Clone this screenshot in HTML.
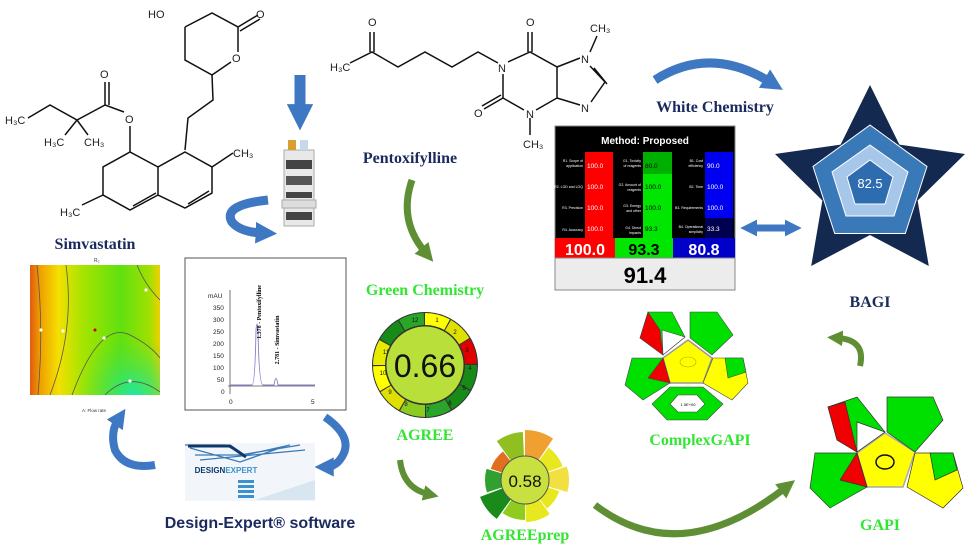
<!DOCTYPE html>
<html><head><meta charset="utf-8"><style>
body{margin:0;background:#fff}
svg{display:block}
.n{font-family:"Liberation Serif",serif;font-weight:bold;fill:#1a2a5e}
.g{font-family:"Liberation Serif",serif;font-weight:bold;fill:#33e633}
.c{font-family:"Liberation Sans",sans-serif;fill:#222}
.b{stroke:#111;stroke-width:1.5;fill:none}
</style></head><body>
<svg width="975" height="549" viewBox="0 0 975 549" xmlns="http://www.w3.org/2000/svg">
<defs>
<marker id="ab" viewBox="0 0 10 10" refX="3" refY="5" markerWidth="2.4" markerHeight="2.4" orient="auto-start-reverse"><path d="M0,0L10,5L0,10z" fill="#3f78c2"/></marker>
<marker id="ag" viewBox="0 0 10 10" refX="3" refY="5" markerWidth="2.6" markerHeight="2.6" orient="auto"><path d="M0,0L10,5L0,10z" fill="#5f8f35"/></marker>
<linearGradient id="cp" x1="0" y1="0" x2="1" y2="0">
<stop offset="0" stop-color="#e05a10"/><stop offset="0.08" stop-color="#f0a000"/><stop offset="0.22" stop-color="#f4e000"/><stop offset="0.4" stop-color="#a8e400"/><stop offset="0.7" stop-color="#60e010"/><stop offset="0.92" stop-color="#a0e000"/><stop offset="1" stop-color="#f0d000"/></linearGradient>
<radialGradient id="tl" cx="0.8" cy="1" r="0.45"><stop offset="0" stop-color="#20e8a0"/><stop offset="1" stop-color="#40e040" stop-opacity="0"/></radialGradient>
</defs>

<!-- Simvastatin structure -->
<g class="b">
<path d="M185,27L212,13L238,27L238,52M231,62L212,75L185,60L185,27"/>
<path d="M238,27L258,15M240,31L260,19"/>
<path d="M212,75L213,100L188,118L185,150"/>
<path d="M185,152L212,167L212,193L185,208L158,195L158,167Z"/>
<path d="M158,167L130,152L103,167L103,195L130,210L158,195"/>
<path d="M133,206L156,193M188,204L209,191"/>
<path d="M212,167L233,153"/>
<path d="M103,195L82,205"/>
<path d="M130,152L130,126M124,112L105,105L105,82M109,105L109,82M105,105L77,120L50,105L28,118M77,120L65,135M77,120L88,135"/>
</g>
<text x="148" y="18" class="c" font-size="11">HO</text>
<text x="256" y="18" class="c" font-size="11">O</text>
<text x="232" y="62" class="c" font-size="11">O</text>
<text x="100" y="78" class="c" font-size="11">O</text>
<text x="125" y="123" class="c" font-size="11">O</text>
<text x="5" y="124" class="c" font-size="11">H₃C</text>
<text x="44" y="146" class="c" font-size="11">H₃C</text>
<text x="84" y="146" class="c" font-size="11">CH₃</text>
<text x="233" y="157" class="c" font-size="11">CH₃</text>
<text x="60" y="216" class="c" font-size="11">H₃C</text>
<text x="95" y="249" class="n" font-size="16" text-anchor="middle">Simvastatin</text>

<!-- HPLC instrument + arrows -->
<path d="M300,75L300,112" stroke="#3f78c2" stroke-width="11" marker-end="url(#ab)"/>
<rect x="284" y="150" width="30" height="76" fill="#e8e8e8" stroke="#aaa"/>
<rect x="286" y="160" width="26" height="9" fill="#444"/><rect x="286" y="176" width="26" height="9" fill="#555"/><rect x="286" y="192" width="26" height="6" fill="#444"/><rect x="282" y="200" width="34" height="8" fill="#ddd" stroke="#aaa"/><rect x="286" y="212" width="26" height="8" fill="#444"/>
<rect x="288" y="140" width="8" height="10" fill="#d8a030"/><rect x="300" y="140" width="8" height="10" fill="#c8d8e8"/>
<path d="M268,200Q222,205 232,222Q240,232 262,233" stroke="#3f78c2" stroke-width="9" fill="none" marker-end="url(#ab)"/>

<!-- Pentoxifylline -->
<g class="b">
<path d="M350,63L372,52L398,67L425,52L452,67L478,52L498,63"/>
<path d="M370,52L370,32M374,52L374,32"/>
<path d="M508,62L530,52L557,67L557,98L536,110M524,110L503,98L503,74"/>
<path d="M528,52L528,32M532,52L532,32"/>
<path d="M503,98L484,109M501,95L482,106"/>
<path d="M530,118L530,135"/>
<path d="M557,67L580,58M590,52L597,36M590,66L605,82L591,102M594,68L607,84M580,105L557,98"/>
</g>
<text x="330" y="71" class="c" font-size="11">H₃C</text>
<text x="368" y="26" class="c" font-size="11">O</text>
<text x="526" y="26" class="c" font-size="11">O</text>
<text x="474" y="117" class="c" font-size="11">O</text>
<text x="498" y="72" class="c" font-size="11">N</text>
<text x="526" y="118" class="c" font-size="11">N</text>
<text x="581" y="63" class="c" font-size="11">N</text>
<text x="581" y="112" class="c" font-size="11">N</text>
<text x="590" y="32" class="c" font-size="11">CH₃</text>
<text x="523" y="148" class="c" font-size="11">CH₃</text>
<text x="410" y="163" class="n" font-size="16" text-anchor="middle">Pentoxifylline</text>
<path d="M412,180Q398,220 425,252" stroke="#5f8f35" stroke-width="7" fill="none" marker-end="url(#ag)"/>

<!-- White chemistry -->
<path d="M655,80Q710,45 770,82" stroke="#3f78c2" stroke-width="9" fill="none" marker-end="url(#ab)"/>
<text x="715" y="112" class="n" font-size="16" text-anchor="middle">White Chemistry</text>

<!-- RGB table -->
<rect x="555" y="126" width="180" height="164" fill="#000" stroke="#888"/>
<text x="645" y="144" font-family="Liberation Sans,sans-serif" font-weight="bold" font-size="10" fill="#fff" text-anchor="middle">Method: Proposed</text>
<rect x="585" y="152" width="28" height="86" fill="#f00"/>
<rect x="643" y="152" width="29" height="86" fill="#00e600"/><rect x="643" y="152" width="29" height="22" fill="#00b000"/>
<rect x="705" y="152" width="28" height="66" fill="#0000f0"/><rect x="705" y="218" width="28" height="20" fill="#000050"/>
<g font-family="Liberation Sans,sans-serif" font-size="6.5" fill="#fff">
<text x="587" y="168">100.0</text><text x="587" y="189">100.0</text><text x="587" y="210">100.0</text><text x="587" y="231">100.0</text>
<text x="707" y="168">90.0</text><text x="707" y="189">100.0</text><text x="707" y="210">100.0</text><text x="707" y="231">33.3</text>
</g>
<g font-family="Liberation Sans,sans-serif" font-size="6.5" fill="#000">
<text x="645" y="168">80.0</text><text x="645" y="189">100.0</text><text x="645" y="210">100.0</text><text x="645" y="231">93.3</text></g>
<g font-family="Liberation Sans,sans-serif" font-size="3.5" fill="#fff" text-anchor="end">
<text x="583" y="162">R1. Scope of</text><text x="583" y="167">application</text><text x="583" y="188">R2. LOD and LOQ</text><text x="583" y="209">R3. Precision</text><text x="583" y="231">R4. Accuracy</text>
<text x="641" y="162">G1. Toxicity</text><text x="641" y="167">of reagents</text><text x="641" y="186">G2. Amount of</text><text x="641" y="191">reagents</text><text x="641" y="207">G3. Energy</text><text x="641" y="212">and other</text><text x="641" y="229">G4. Direct</text><text x="641" y="234">impacts</text>
<text x="703" y="162">B1. Cost</text><text x="703" y="167">efficiency</text><text x="703" y="188">B2. Time</text><text x="703" y="209">B3. Requirements</text><text x="703" y="228">B4. Operational</text><text x="703" y="233">simplicity</text></g>
<rect x="555" y="238" width="60" height="20" fill="#f00"/><rect x="615" y="238" width="58" height="20" fill="#00e600"/><rect x="673" y="238" width="62" height="20" fill="#0000c8"/>
<g font-family="Liberation Sans,sans-serif" font-weight="bold" font-size="16" text-anchor="middle">
<text x="585" y="255" fill="#fff">100.0</text><text x="644" y="255" fill="#000">93.3</text><text x="704" y="255" fill="#fff">80.8</text></g>
<rect x="555" y="258" width="180" height="32" fill="#ececec" stroke="#888"/>
<text x="645" y="283" font-family="Liberation Sans,sans-serif" font-weight="bold" font-size="22" text-anchor="middle" fill="#000">91.4</text>
<path d="M752,228L790,228" stroke="#3f78c2" stroke-width="7" marker-end="url(#ab)" marker-start="url(#ab)"/>

<!-- BAGI -->
<polygon points="870,85 899.4,144.6 965,154 917.6,200.5 928.8,266 870,235 811.2,266 822.4,200.5 775,154 840.6,144.6" fill="#13294f"/>
<polygon points="870,125 927,166.5 905.3,233.5 834.7,233.5 813,166.5" fill="#3a79b8" stroke="#fff" stroke-width="1"/>
<polygon points="870,145 908,172 894,216 846,216 832,172" fill="#a6c6ea" stroke="#fff"/>
<polygon points="870,160 893,177 885,204 855,204 847,177" fill="#2e6cb0" stroke="#fff"/>
<text x="870" y="188" font-family="Liberation Sans,sans-serif" font-size="13" fill="#fff" text-anchor="middle">82.5</text>
<text x="870" y="307" class="n" font-size="16" text-anchor="middle">BAGI</text>
<path d="M860,366Q866,340 838,338" stroke="#5f8f35" stroke-width="6" fill="none" marker-end="url(#ag)"/>

<!-- Contour plot -->
<rect x="30" y="265" width="130" height="130" fill="url(#cp)"/>
<rect x="30" y="265" width="130" height="130" fill="url(#tl)"/>
<g fill="none" stroke="#555" stroke-width="0.8"><path d="M37,265Q44,330 38,395"/><path d="M66,265Q75,330 50,395"/><path d="M137,265Q145,285 160,300"/><path d="M72,395Q100,320 130,335Q150,345 160,358"/><path d="M105,395Q130,370 160,392"/></g>
<circle cx="95" cy="330" r="1.5" fill="#c00"/><circle cx="104" cy="338" r="1.6" fill="#fff"/><circle cx="146" cy="290" r="1.6" fill="#fff"/><circle cx="130" cy="381" r="1.6" fill="#fff"/><circle cx="41" cy="330" r="1.6" fill="#fff"/><circle cx="63" cy="331" r="1.6" fill="#fff"/>
<text x="94" y="262" font-size="5" font-family="Liberation Sans,sans-serif" fill="#333">R₂</text>
<text x="94" y="412" font-size="4.5" font-family="Liberation Sans,sans-serif" fill="#333" text-anchor="middle">A: Flow rate</text>

<!-- Chromatogram -->
<rect x="185" y="258" width="161" height="152" fill="#fff" stroke="#555"/>
<g font-family="Liberation Sans,sans-serif" font-size="6.5" fill="#222">
<text x="208" y="298">mAU</text><text x="213" y="310">350</text><text x="213" y="322">300</text><text x="213" y="334">250</text><text x="213" y="346">200</text><text x="213" y="358">150</text><text x="213" y="370">100</text><text x="217" y="382">50</text><text x="221" y="394">0</text>
<text x="229" y="404">0</text><text x="311" y="404">5</text></g>
<path d="M230,290L230,394M228,386L315,386" stroke="#555" fill="none" stroke-width="0.8"/>
<path d="M230,385L252,385Q255,385 256,330Q257,318 258,330Q259,385 263,385L274,385Q276,372 278,385L315,385" stroke="#8878c8" fill="none" stroke-width="0.9"/>
<text x="0" y="0" transform="translate(261,312) rotate(-90)" font-size="6" font-family="Liberation Serif,serif" font-weight="bold" text-anchor="middle">1.378 - Pentoxifylline</text>
<text x="0" y="0" transform="translate(279,340) rotate(-90)" font-size="6" font-family="Liberation Serif,serif" font-weight="bold" text-anchor="middle">2.781 - Simvastatin</text>

<!-- Design expert -->
<path d="M325,417Q358,440 338,462Q332,467 328,467" stroke="#3f78c2" stroke-width="8" fill="none" marker-end="url(#ab)"/>
<path d="M155,465Q125,470 115,450Q110,432 118,420" stroke="#3f78c2" stroke-width="8" fill="none" marker-end="url(#ab)"/>
<rect x="185" y="443" width="130" height="58" fill="#f2f6fa"/>
<path d="M185,445L225,445L245,455L290,445M190,448L240,462L280,448M195,455L240,455L300,445M200,460L305,450" stroke="#3a7ab8" stroke-width="1.3" fill="none"/>
<path d="M188,446L230,446L246,457" stroke="#0d3a6a" stroke-width="3" fill="none"/>
<text x="226" y="473" font-family="Liberation Sans,sans-serif" font-size="8" fill="#0d3a6a" text-anchor="middle" font-weight="bold">DESIGN<tspan fill="#3a90d0">EXPERT</tspan></text>
<rect x="238" y="480" width="16" height="3" fill="#3a90d0"/><rect x="238" y="485" width="16" height="3" fill="#3a90d0"/><rect x="238" y="490" width="16" height="3" fill="#3a90d0"/><rect x="238" y="495" width="16" height="3" fill="#3a90d0"/>
<polygon points="255,500 315,480 315,500" fill="#d8e6f2"/>
<text x="260" y="528" font-family="Liberation Sans,sans-serif" font-weight="bold" font-size="16" fill="#1a2a5e" text-anchor="middle">Design-Expert® software</text>

<!-- AGREE -->
<text x="425" y="295" class="g" font-size="16" text-anchor="middle">Green Chemistry</text>
<circle cx="425" cy="365" r="53" fill="#333"/>
<g fill="none" stroke-width="12">
<circle cx="425" cy="365" r="46" stroke="#ffff00" stroke-dasharray="23 266" transform="rotate(-90 425 365)"/>
<circle cx="425" cy="365" r="46" stroke="#e0e000" stroke-dasharray="23 266" transform="rotate(-60 425 365)"/>
<circle cx="425" cy="365" r="46" stroke="#e00000" stroke-dasharray="23 266" transform="rotate(-30 425 365)"/>
<circle cx="425" cy="365" r="46" stroke="#178a17" stroke-dasharray="23 266" transform="rotate(0 425 365)"/>
<circle cx="425" cy="365" r="46" stroke="#178a17" stroke-dasharray="23 266" transform="rotate(30 425 365)"/>
<circle cx="425" cy="365" r="46" stroke="#2aa52a" stroke-dasharray="23 266" transform="rotate(60 425 365)"/>
<circle cx="425" cy="365" r="46" stroke="#8ccc20" stroke-dasharray="23 266" transform="rotate(90 425 365)"/>
<circle cx="425" cy="365" r="46" stroke="#e0e000" stroke-dasharray="23 266" transform="rotate(120 425 365)"/>
<circle cx="425" cy="365" r="46" stroke="#ffff00" stroke-dasharray="23 266" transform="rotate(150 425 365)"/>
<circle cx="425" cy="365" r="46" stroke="#e8ea00" stroke-dasharray="23 266" transform="rotate(180 425 365)"/>
<circle cx="425" cy="365" r="46" stroke="#178a17" stroke-dasharray="23 266" transform="rotate(210 425 365)"/>
<circle cx="425" cy="365" r="46" stroke="#2aa52a" stroke-dasharray="23 266" transform="rotate(240 425 365)"/>
</g>
<g font-family="Liberation Sans,sans-serif" font-size="6" text-anchor="middle" fill="#111">
<text x="437" y="322">1</text><text x="455" y="334">2</text><text x="467" y="352">3</text><text x="470" y="370">4</text><text x="464" y="390">5</text><text x="450" y="405">6</text><text x="428" y="412">7</text><text x="406" y="406">8</text><text x="390" y="394">9</text><text x="383" y="375">10</text><text x="386" y="354">11</text><text x="415" y="322">12</text></g>
<circle cx="425" cy="365" r="39" fill="#b9e03a" stroke="#333"/>
<text x="425" y="377" font-family="Liberation Sans,sans-serif" font-size="32" text-anchor="middle" fill="#111">0.66</text>
<text x="425" y="440" class="g" font-size="16" text-anchor="middle">AGREE</text>
<path d="M400,460Q403,488 428,494" stroke="#5f8f35" stroke-width="6" fill="none" marker-end="url(#ag)"/>

<!-- AGREEprep -->
<g fill="none">
<circle cx="525" cy="480" r="37" stroke="#f0a030" stroke-width="26" stroke-dasharray="22 211" transform="rotate(-90 525 480)"/>
<circle cx="525" cy="480" r="32" stroke="#e8e820" stroke-width="16" stroke-dasharray="19 182" transform="rotate(-54 525 480)"/>
<circle cx="525" cy="480" r="34" stroke="#f0e040" stroke-width="20" stroke-dasharray="20 194" transform="rotate(-18 525 480)"/>
<circle cx="525" cy="480" r="30" stroke="#e8e820" stroke-width="12" stroke-dasharray="18 171" transform="rotate(18 525 480)"/>
<circle cx="525" cy="480" r="33" stroke="#e8e820" stroke-width="18" stroke-dasharray="20 187" transform="rotate(54 525 480)"/>
<circle cx="525" cy="480" r="32" stroke="#90cc20" stroke-width="16" stroke-dasharray="19 182" transform="rotate(90 525 480)"/>
<circle cx="525" cy="480" r="36" stroke="#1a8a1a" stroke-width="24" stroke-dasharray="21 205" transform="rotate(126 525 480)"/>
<circle cx="525" cy="480" r="32" stroke="#30a030" stroke-width="16" stroke-dasharray="19 182" transform="rotate(162 525 480)"/>
<circle cx="525" cy="480" r="30" stroke="#e07020" stroke-width="12" stroke-dasharray="18 171" transform="rotate(198 525 480)"/>
<circle cx="525" cy="480" r="36" stroke="#90c020" stroke-width="24" stroke-dasharray="21 205" transform="rotate(234 525 480)"/>
</g>
<circle cx="525" cy="480" r="24" fill="#c8e040" stroke="#555"/>
<text x="525" y="487" font-family="Liberation Sans,sans-serif" font-size="17" text-anchor="middle" fill="#111">0.58</text>
<text x="525" y="540" class="g" font-size="16" text-anchor="middle">AGREEprep</text>
<path d="M595,505Q680,570 785,488" stroke="#5f8f35" stroke-width="7" fill="none" marker-end="url(#ag)"/>

<!-- ComplexGAPI -->
<g stroke="#444" stroke-width="0.6">
<polygon points="688,340 712,358 703,383 670,383 663,358" fill="#ffff00" stroke="#999" stroke-width="1.5"/>
<ellipse cx="688" cy="362" rx="8" ry="5" fill="none" stroke="#aa0"/>
<polygon points="648,312 672,312 685,337 663,355 640,338" fill="#00e000"/>
<polygon points="648,312 660,330 663,355 640,338" fill="#f00000"/>
<polygon points="662,330 685,337 663,355" fill="#fff"/>
<polygon points="690,312 717,312 733,335 712,355 690,338" fill="#00e000"/>
<polygon points="632,358 663,358 670,383 643,400 625,385" fill="#00e000"/>
<polygon points="663,358 670,383 648,378" fill="#f00000"/>
<polygon points="713,358 743,358 748,383 732,400 703,383" fill="#ffff00"/>
<polygon points="725,358 743,358 746,372 728,378" fill="#00e000"/>
<polygon points="670,387 703,387 723,404 707,420 667,420 652,404" fill="#00e000"/>
<polygon points="678,395 697,395 705,404 697,412 678,412 670,404" fill="#fff"/>
</g>
<text x="688" y="406" font-family="Liberation Sans,sans-serif" font-size="4" text-anchor="middle">1.5E+00</text>
<text x="700" y="445" class="g" font-size="16" text-anchor="middle">ComplexGAPI</text>

<!-- GAPI -->
<g stroke="#333" stroke-width="0.7">
<polygon points="885,433 915,452 903,487 867,487 857,453" fill="#ffff00" stroke="#aaa" stroke-width="1.5"/>
<ellipse cx="885" cy="462" rx="9" ry="7" fill="none" stroke="#111" stroke-width="1.5"/>
<polygon points="828,407 857,397 885,432 857,452 837,440" fill="#00e000"/>
<polygon points="828,407 845,402 857,452 837,440" fill="#f00000"/>
<polygon points="857,422 885,432 857,452" fill="#fff"/>
<polygon points="887,397 933,397 943,420 915,452 887,432" fill="#00e000"/>
<polygon points="815,453 857,453 867,487 830,508 810,488" fill="#00e000"/>
<polygon points="857,453 867,487 840,480" fill="#f00000"/>
<polygon points="915,453 953,453 963,488 943,508 907,487" fill="#ffff00"/>
<polygon points="930,453 953,453 957,470 935,480" fill="#00e000"/>
</g>
<text x="880" y="530" class="g" font-size="16" text-anchor="middle">GAPI</text>
</svg>
</body></html>
